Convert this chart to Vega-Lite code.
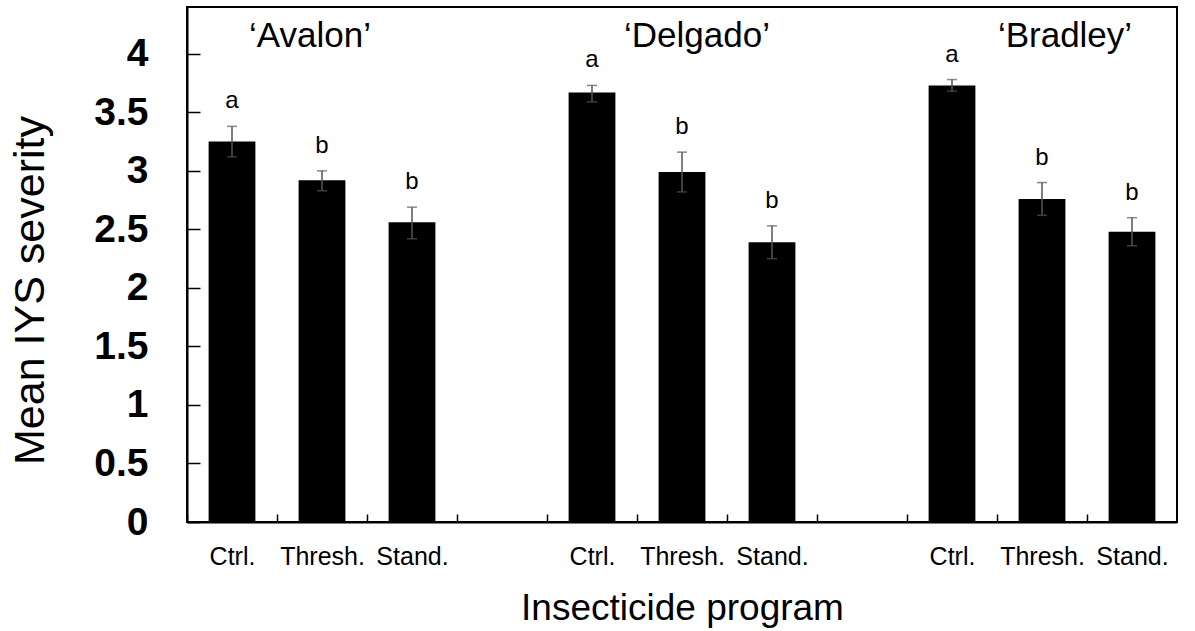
{
  "$schema": "https://vega.github.io/schema/vega-lite/v6.json",
  "autosize": "none",
  "width": 990,
  "height": 515,
  "padding": {"left": 187, "top": 7, "right": 18, "bottom": 109},
  "background": "white",
  "config": {
    "font": "Liberation Sans",
    "view": {"stroke": "black", "strokeWidth": 2}
  },
  "datasets": {
    "bars": [
      {"slot": "Avalon Ctrl.", "cultivar": "Avalon", "program": "Ctrl.", "mean": 3.25, "lower": 3.12, "upper": 3.38, "letter": "a"},
      {"slot": "Avalon Thresh.", "cultivar": "Avalon", "program": "Thresh.", "mean": 2.92, "lower": 2.83, "upper": 3.0, "letter": "b"},
      {"slot": "Avalon Stand.", "cultivar": "Avalon", "program": "Stand.", "mean": 2.56, "lower": 2.42, "upper": 2.69, "letter": "b"},
      {"slot": "Delgado Ctrl.", "cultivar": "Delgado", "program": "Ctrl.", "mean": 3.67, "lower": 3.59, "upper": 3.73, "letter": "a"},
      {"slot": "Delgado Thresh.", "cultivar": "Delgado", "program": "Thresh.", "mean": 2.99, "lower": 2.82, "upper": 3.16, "letter": "b"},
      {"slot": "Delgado Stand.", "cultivar": "Delgado", "program": "Stand.", "mean": 2.39, "lower": 2.25, "upper": 2.53, "letter": "b"},
      {"slot": "Bradley Ctrl.", "cultivar": "Bradley", "program": "Ctrl.", "mean": 3.73, "lower": 3.68, "upper": 3.78, "letter": "a"},
      {"slot": "Bradley Thresh.", "cultivar": "Bradley", "program": "Thresh.", "mean": 2.76, "lower": 2.62, "upper": 2.9, "letter": "b"},
      {"slot": "Bradley Stand.", "cultivar": "Bradley", "program": "Stand.", "mean": 2.48, "lower": 2.36, "upper": 2.6, "letter": "b"}
    ],
    "titles": [
      {"slot": "Avalon Thresh.", "name": "‘Avalon’"},
      {"slot": "Delgado Thresh.", "name": "‘Delgado’"},
      {"slot": "Bradley Thresh.", "name": "‘Bradley’"}
    ]
  },
  "encoding": {
    "x": {
      "field": "slot",
      "type": "nominal",
      "sort": null,
      "scale": {
        "domain": ["Avalon Ctrl.", "Avalon Thresh.", "Avalon Stand.", "gap1", "Delgado Ctrl.", "Delgado Thresh.", "Delgado Stand.", "gap2", "Bradley Ctrl.", "Bradley Thresh.", "Bradley Stand."],
        "paddingInner": 0.48,
        "paddingOuter": 0.24
      },
      "axis": {
        "title": "Insecticide program",
        "titleFontSize": 37,
        "titleFontWeight": "normal",
        "titleColor": "black",
        "titlePadding": 21,
        "labelExpr": "replace(replace(datum.value, /^gap[0-9]$/, ''), /^[A-Za-z]+ /, '')",
        "labelAngle": 0,
        "labelFontSize": 25,
        "labelColor": "black",
        "labelPadding": 30,
        "labelOffset": 45,
        "tickOffset": -45,
        "tickSize": -8,
        "tickWidth": 1.5,
        "tickColor": "black",
        "domainColor": "black",
        "domainWidth": 2,
        "grid": false
      }
    }
  },
  "layer": [
    {
      "data": {"name": "bars"},
      "mark": {"type": "bar", "color": "black"},
      "encoding": {
        "y": {
          "field": "mean",
          "type": "quantitative",
          "scale": {"domain": [0, 4.4], "nice": false},
          "axis": {
            "title": "Mean IYS severity",
            "titleFontSize": 43,
            "titleFontWeight": "normal",
            "titleColor": "black",
            "titleY": 283,
            "titlePadding": 41,
            "values": [0, 0.5, 1, 1.5, 2, 2.5, 3, 3.5, 4],
            "format": "~g",
            "labelFontSize": 39,
            "labelFontWeight": "bold",
            "labelColor": "black",
            "labelPadding": 52,
            "tickSize": -13,
            "tickWidth": 1.5,
            "tickColor": "black",
            "domainColor": "black",
            "domainWidth": 2,
            "grid": false
          }
        }
      }
    },
    {
      "data": {"name": "bars"},
      "mark": {"type": "rule", "color": "#555555", "strokeWidth": 1.5},
      "encoding": {
        "y": {"field": "lower", "type": "quantitative"},
        "y2": {"field": "upper"}
      }
    },
    {
      "data": {"name": "bars"},
      "mark": {"type": "tick", "color": "#555555", "thickness": 1.5, "size": 10},
      "encoding": {
        "y": {"field": "upper", "type": "quantitative"}
      }
    },
    {
      "data": {"name": "bars"},
      "mark": {"type": "tick", "color": "#555555", "thickness": 1.5, "size": 10},
      "encoding": {
        "y": {"field": "lower", "type": "quantitative"}
      }
    },
    {
      "data": {"name": "bars"},
      "mark": {"type": "text", "fontSize": 24, "color": "black", "baseline": "alphabetic", "dy": -18},
      "encoding": {
        "y": {"field": "upper", "type": "quantitative"},
        "text": {"field": "letter"}
      }
    },
    {
      "data": {"name": "titles"},
      "transform": [{"filter": "datum.slot == 'Avalon Thresh.'"}],
      "mark": {"type": "text", "fontSize": 35, "color": "black", "baseline": "alphabetic", "dx": -12},
      "encoding": {
        "y": {"datum": 4.06, "type": "quantitative"},
        "text": {"field": "name"}
      }
    },
    {
      "data": {"name": "titles"},
      "transform": [{"filter": "datum.slot == 'Delgado Thresh.'"}],
      "mark": {"type": "text", "fontSize": 35, "color": "black", "baseline": "alphabetic", "dx": 15},
      "encoding": {
        "y": {"datum": 4.06, "type": "quantitative"},
        "text": {"field": "name"}
      }
    },
    {
      "data": {"name": "titles"},
      "transform": [{"filter": "datum.slot == 'Bradley Thresh.'"}],
      "mark": {"type": "text", "fontSize": 35, "color": "black", "baseline": "alphabetic", "dx": 23},
      "encoding": {
        "y": {"datum": 4.06, "type": "quantitative"},
        "text": {"field": "name"}
      }
    }
  ]
}
